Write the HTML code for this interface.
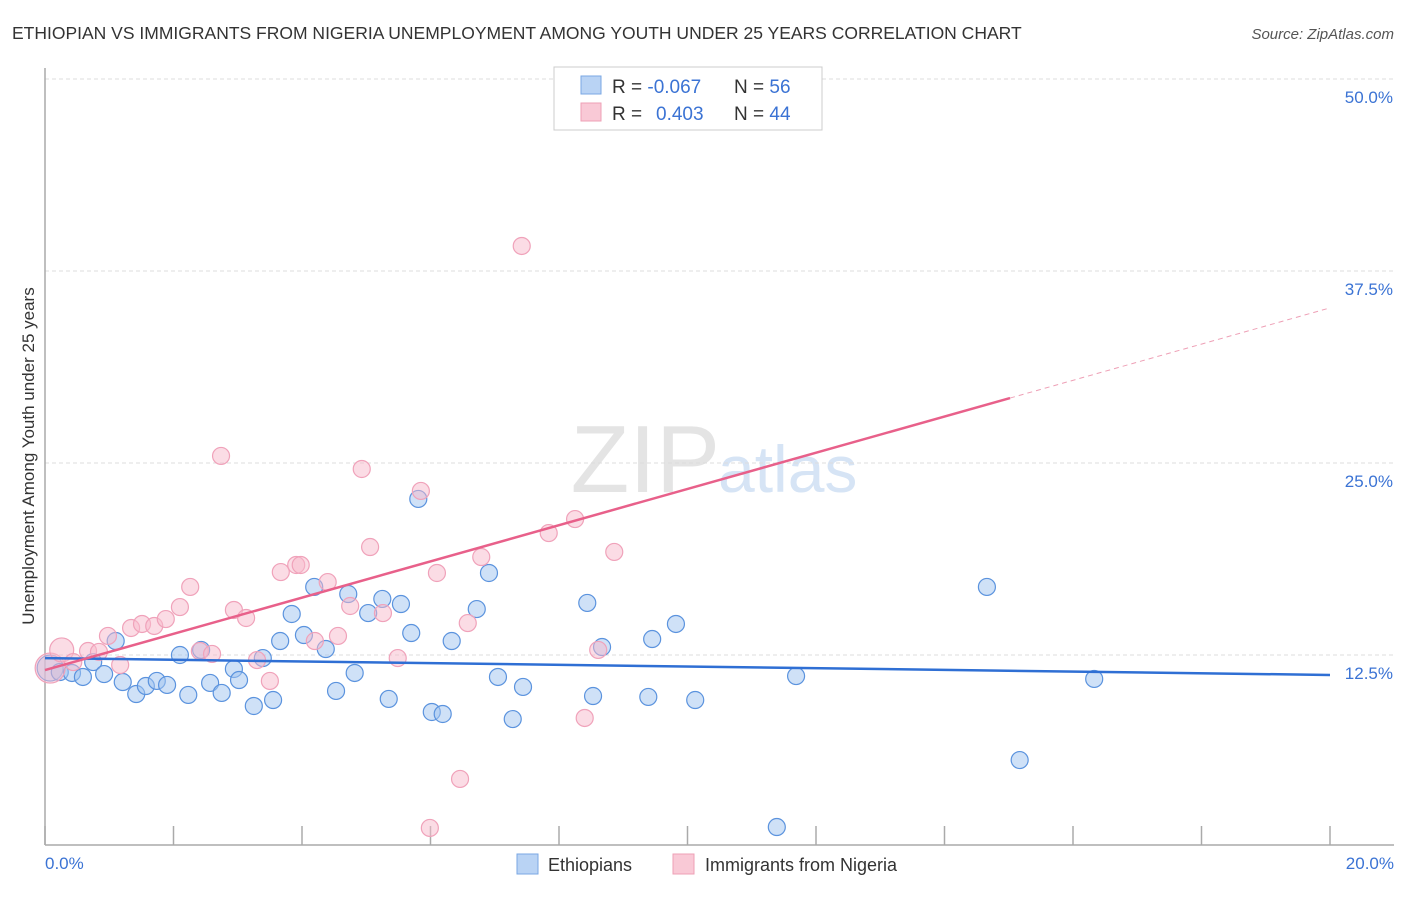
<!DOCTYPE html>
<html><head><meta charset="utf-8"><style>
body{margin:0;background:#fff;font-family:"Liberation Sans",sans-serif}
svg text{font-family:"Liberation Sans",sans-serif}
</style></head><body>
<svg id="chart" width="1406" height="892">
<text x="12" y="39" font-size="17.5" fill="#333">ETHIOPIAN VS IMMIGRANTS FROM NIGERIA UNEMPLOYMENT AMONG YOUTH UNDER 25 YEARS CORRELATION CHART</text>
<text x="1394" y="39" font-size="15" fill="#555" font-style="italic" text-anchor="end">Source: ZipAtlas.com</text>
<text x="720" y="492" font-size="96" fill="#e4e4e4" text-anchor="end" font-family="Liberation Serif">ZIP</text>
<text x="718" y="492" font-size="66" fill="#d6e4f5">atlas</text>
<g id="grid"></g><g id="axes"></g><g id="pts"></g><g id="trend"></g>
<text transform="translate(34,456) rotate(-90)" font-size="17" fill="#333" text-anchor="middle">Unemployment Among Youth under 25 years</text>
<text x="45" y="869" font-size="17" fill="#3b73d4">0.0%</text>
<text x="1394" y="869" font-size="17" fill="#3b73d4" text-anchor="end">20.0%</text>
<g>
<rect x="554" y="67" width="268" height="63" fill="#fff" stroke="#ccc"/>
<rect x="581" y="76" width="20" height="18" fill="#b9d3f4" stroke="#7aa7e3"/>
<rect x="581" y="103" width="20" height="18" fill="#f9c9d6" stroke="#eea0b6"/>
<text x="612" y="93" font-size="19" fill="#333">R = <tspan fill="#3b73d4">-0.067</tspan><tspan x="734">N = </tspan><tspan fill="#3b73d4">56</tspan></text>
<text x="612" y="120" font-size="19" fill="#333">R = <tspan x="656" fill="#3b73d4">0.403</tspan><tspan x="734">N = </tspan><tspan fill="#3b73d4">44</tspan></text>
</g>
<g>
<rect x="517" y="854" width="21" height="20" fill="#b9d3f4" stroke="#7aa7e3"/>
<text x="548" y="871" font-size="18" fill="#333">Ethiopians</text>
<rect x="673" y="854" width="21" height="20" fill="#f9c9d6" stroke="#eea0b6"/>
<text x="705" y="871" font-size="18" fill="#333">Immigrants from Nigeria</text>
</g>
</svg>
<script>
const yTicks=[12.5,25,37.5,50];
const yTickLabels=["12.5%","25.0%","37.5%","50.0%"];
const xTicks=[0,2,4,6,8,10,12,14,16,18,20];
const ethX=[0.08,0.23,0.42,0.59,0.75,0.92,1.10,1.21,1.42,1.57,1.74,1.90,2.10,2.23,2.43,2.57,2.75,2.94,3.02,3.25,3.39,3.55,3.66,3.84,4.03,4.19,4.37,4.53,4.72,4.82,5.03,5.25,5.35,5.54,5.70,5.81,6.02,6.19,6.33,6.72,6.91,7.05,7.28,7.44,8.44,8.53,8.67,9.39,9.45,9.82,10.12,11.39,11.69,14.66,15.17,16.33];
const ethY=[11.65,11.39,11.33,11.07,12.04,11.26,13.41,10.74,9.96,10.48,10.81,10.55,12.50,9.90,12.83,10.68,10.03,11.59,10.87,9.18,12.30,9.57,13.41,15.17,13.80,16.93,12.89,10.16,16.47,11.33,15.23,16.15,9.64,15.82,13.93,22.66,8.79,8.66,13.41,15.49,17.84,11.07,8.33,10.42,15.89,9.83,13.02,9.77,13.54,14.52,9.57,1.30,11.13,16.93,5.66,10.94];
const nigX=[0.08,0.26,0.44,0.67,0.84,0.98,1.17,1.34,1.51,1.70,1.88,2.10,2.26,2.41,2.60,2.74,2.94,3.13,3.30,3.50,3.67,3.91,3.98,4.20,4.40,4.56,4.75,4.93,5.06,5.26,5.49,5.85,6.10,5.99,6.46,6.58,6.79,7.42,7.84,8.25,8.40,8.61,8.86,10.05];
const nigY=[11.65,12.83,12.04,12.76,12.70,13.74,11.85,14.26,14.52,14.39,14.84,15.62,16.93,12.76,12.57,25.46,15.43,14.91,12.17,10.81,17.90,18.36,18.36,13.41,17.25,13.74,15.69,24.61,19.53,15.23,12.30,23.18,17.84,1.24,4.43,14.58,18.88,39.13,20.44,21.35,8.40,12.83,19.21,50.13];
const ethTrend=[12.30,11.20];
const nigTrend=[11.52,35.1];
const nigSolidEnd=15.02;
const NS="http://www.w3.org/2000/svg";
const X0=45,X1=1330,Y0=847,YPX=768/50;
const sx=v=>X0+(X1-X0)*v/20, sy=v=>Y0-v*YPX;
function mk(tag,attrs,parent){const e=document.createElementNS(NS,tag);for(const k in attrs)e.setAttribute(k,attrs[k]);document.getElementById(parent).appendChild(e);return e;}
yTicks.forEach((t,i)=>{
 const l=mk('line',{x1:X0,x2:1394,y1:sy(t),y2:sy(t),stroke:'#ddd','stroke-dasharray':'4,3'},'grid');
 
 
 const tx=mk('text',{x:1393,y:sy(t)+24,'font-size':17,fill:'#3b73d4','text-anchor':'end'},'grid');
 tx.textContent=yTickLabels[i];
 
 
});
const ax=mk('line',{x1:X0,x2:1394,y1:845,y2:845,stroke:'#aaa','stroke-width':1.5},'axes');


const ay=mk('line',{x1:X0,x2:X0,y1:68,y2:845,stroke:'#aaa','stroke-width':1.5},'axes');


xTicks.forEach(t=>{const l=mk('line',{x1:sx(t),x2:sx(t),y1:826,y2:845,stroke:'#aaa','stroke-width':1.5},'axes');
 
 });
ethX.forEach((x,i)=>{const c=mk('circle',{cx:sx(x),cy:sy(ethY[i]),r:i==0?13:8.5,fill:'rgba(160,196,240,0.5)',stroke:'#5b93de','stroke-width':1.2},'pts');
 
 });
nigX.forEach((x,i)=>{const c=mk('circle',{cx:sx(x),cy:sy(nigY[i]),r:i==0?15:(i==1?12:8.5),fill:'rgba(247,186,204,0.5)',stroke:'#f0a2ba','stroke-width':1.2},'pts');
 
 });
const bt=mk('line',{x1:sx(0),y1:sy(ethTrend[0]),x2:sx(20),y2:sy(ethTrend[1]),stroke:'#2f6fd4','stroke-width':2.5},'trend');


const ny=v=>nigTrend[0]+(nigTrend[1]-nigTrend[0])*v/20;
const pt=mk('line',{x1:sx(0),y1:sy(ny(0)),x2:sx(nigSolidEnd),y2:sy(ny(nigSolidEnd)),stroke:'#e8608a','stroke-width':2.5},'trend');


const pd=mk('line',{x1:sx(nigSolidEnd),y1:sy(ny(nigSolidEnd)),x2:sx(20),y2:sy(ny(20)),stroke:'#eea0b6','stroke-width':1,'stroke-dasharray':'5,4'},'trend');


</script>
</body></html>
